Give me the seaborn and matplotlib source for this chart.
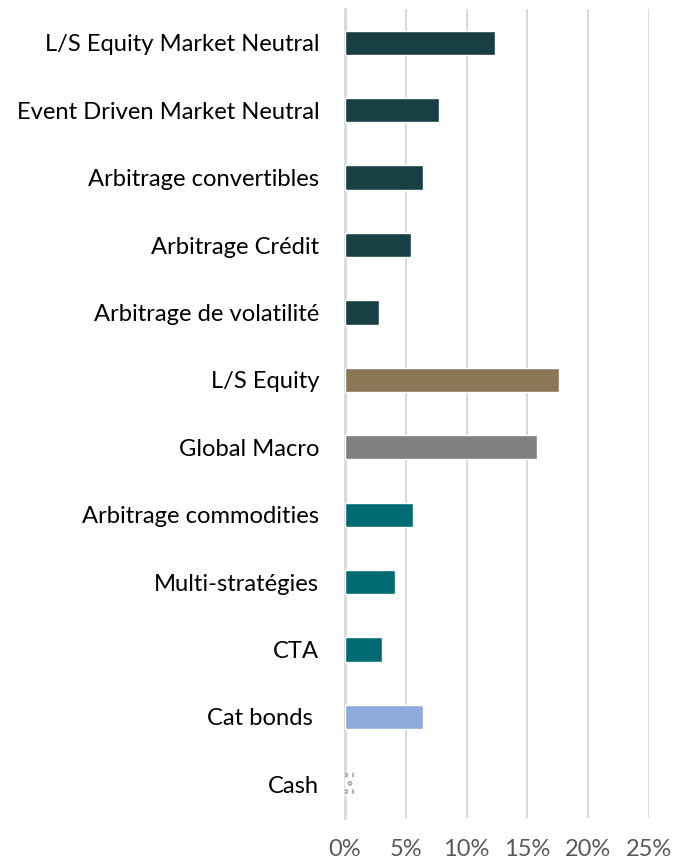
import matplotlib
matplotlib.use('Agg')
import pandas as pd
import matplotlib.pyplot as plt
import seaborn as sns

strategies = ['L/S Equity Market Neutral', 'Event Driven Market Neutral', 'Arbitrage convertibles',
              'Arbitrage Crédit', 'Arbitrage de volatilité', 'L/S Equity', 'Global Macro',
              'Arbitrage commodities', 'Multi-stratégies', 'CTA', 'Cat bonds ', 'Cash']
weights = [12.3, 7.7, 6.4, 5.4, 2.8, 17.6, 15.8, 5.6, 4.1, 3.0, 6.4, 0.7]
colors = ['#173F44', '#173F44', '#173F44', '#173F44', '#173F44', '#8B7755', '#808080',
          '#006B73', '#006B73', '#006B73', '#8FAADC', '#FFFFFF']
x_ticks = [0, 5, 10, 15, 20, 25]

sns.set_style('white')
plt.rcParams['font.family'] = ['Lato', 'DejaVu Sans']
plt.rcParams['hatch.linewidth'] = 1.0

df = pd.DataFrame({'strategy': strategies, 'weight': weights})

fig = plt.figure(figsize=(6.76, 8.63), dpi=100)
ax = fig.add_axes([0.5104, 0.0521, 0.4497, 0.9374])

sns.barplot(data=df, x='weight', y='strategy', hue='strategy', palette=dict(zip(strategies, colors)),
            legend=False, width=0.36, ax=ax, saturation=1, zorder=3)

# cash bar has a dotted pattern in the original
cash = ax.patches[-1]
cash.set_hatch('oo')
cash.set_edgecolor('#B0B0B0')
cash.set_linewidth(0)

ax.set_xlim(0, 25)
ax.set_ylim(11.5, -0.5)
ax.set_xticks(x_ticks)
ax.set_xticklabels([f'{t}%' for t in x_ticks])
ax.xaxis.grid(True, color='#D9D9D9', linewidth=1.5, zorder=0)
ax.set_axisbelow(True)
for s in ['top', 'right', 'bottom']:
    ax.spines[s].set_visible(False)
ax.spines['left'].set_color('#D9D9D9')
ax.spines['left'].set_linewidth(2)
ax.tick_params(axis='x', length=0, pad=15, labelsize=17, labelcolor='#595959')
ax.tick_params(axis='y', length=0, pad=18.5, labelsize=17.1, labelcolor='#000000')
ax.set_xlabel('')
ax.set_ylabel('')

fig.savefig('out.png', dpi=100)
